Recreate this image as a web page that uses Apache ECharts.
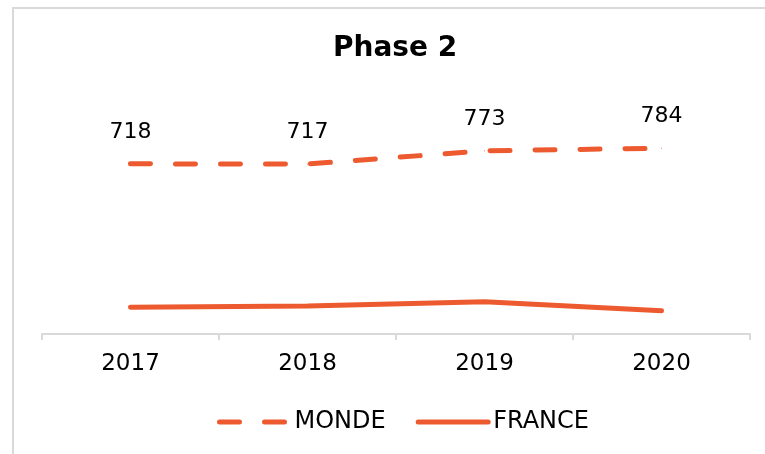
<!DOCTYPE html>
<html>
<head>
<meta charset="utf-8">
<script src="https://cdn.jsdelivr.net/npm/echarts@6/dist/echarts.min.js"></script>
<style>
  html, body { margin: 0; padding: 0; background: #fff; overflow: hidden; }
  #chart { width: 765px; height: 454px; }
</style>
</head>
<body>
<div id="chart"></div>
<script>
// données
const years = ["2017", "2018", "2019", "2020"];
const monde = [718, 717, 773, 784];
const france = [113, 118, 136, 98];

const orange = "#ED5A2F";
const font = "DejaVu Sans";

const chart = echarts.init(document.getElementById("chart"));
chart.setOption({
  animation: false,
  backgroundColor: "#fff",
  title: {
    text: "Phase 2",
    left: 333,
    top: 35,
    padding: 0,
    textStyle: { fontFamily: font, fontSize: 28, fontWeight: "bold", color: "#000" }
  },
  // cadre gris (haut et gauche seulement)
  graphic: [
    { type: "line", shape: { x1: 13, y1: 7, x2: 13, y2: 454 }, style: { stroke: "#d9d9d9", lineWidth: 2 } },
    { type: "line", shape: { x1: 12, y1: 8, x2: 765, y2: 8 }, style: { stroke: "#d9d9d9", lineWidth: 2 } }
  ],
  grid: { left: 42, right: 15, top: 97, bottom: 120 },
  legend: {
    left: 212,
    top: 405,
    itemWidth: 70,
    itemHeight: 20,
    itemGap: 30,
    itemStyle: { opacity: 0 },
    lineStyle: { width: 5, cap: "round" },
    textStyle: { fontFamily: font, fontSize: 24, color: "#000" },
    data: ["MONDE", "FRANCE"]
  },
  xAxis: {
    type: "category",
    data: years,
    boundaryGap: true,
    axisLine: { lineStyle: { color: "#d9d9d9", width: 2 } },
    axisTick: { show: true, length: 6, lineStyle: { color: "#d9d9d9", width: 2 } },
    axisLabel: { margin: 19, fontFamily: font, fontSize: 23, color: "#000" }
  },
  yAxis: {
    type: "value",
    min: 0,
    max: 1000,
    show: false,
    splitLine: { show: false }
  },
  series: [
    {
      name: "MONDE",
      type: "line",
      data: monde,
      symbol: "circle",
      symbolSize: 1,
      itemStyle: { color: orange },
      lineStyle: { color: orange, width: 5, type: [20, 25], cap: "round" },
      label: {
        show: true,
        position: "top",
        distance: 20,
        fontFamily: font,
        fontSize: 22,
        color: "#000"
      }
    },
    {
      name: "FRANCE",
      type: "line",
      data: france,
      symbol: "circle",
      symbolSize: 1,
      itemStyle: { color: orange },
      lineStyle: { color: orange, width: 5, cap: "round" }
    }
  ]
});
</script>
</body>
</html>
